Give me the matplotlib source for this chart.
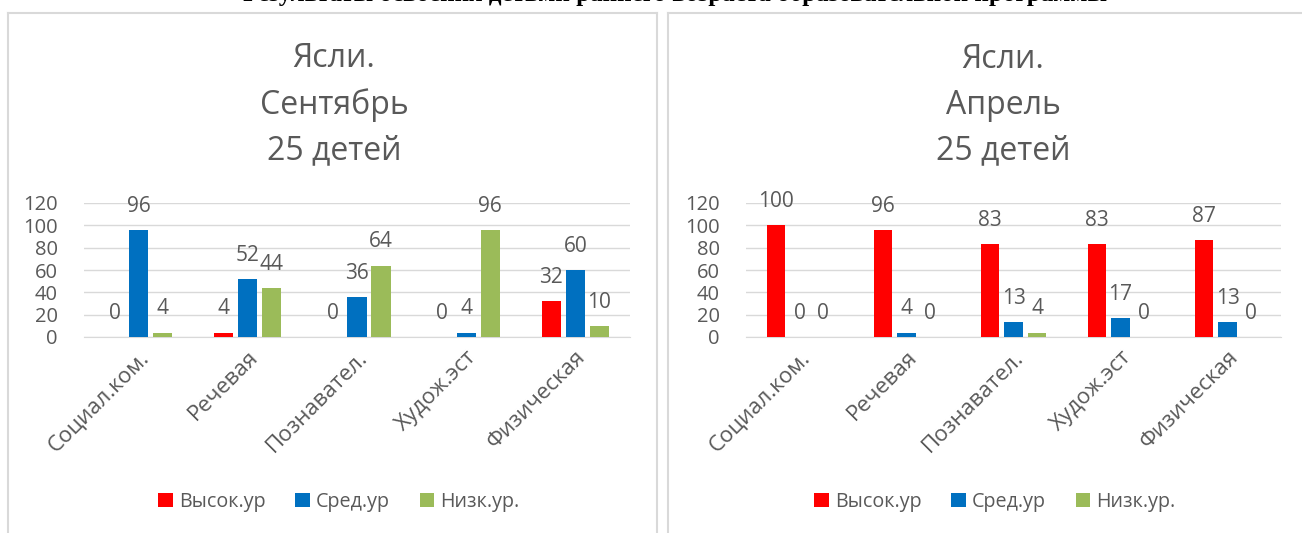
import numpy as np
import matplotlib.pyplot as plt
from matplotlib.lines import Line2D

plt.rcParams['font.family'] = ['Open Sans', 'DejaVu Sans']

# Data
categories = ["Социал.ком.", "Речевая", "Познавател.", "Худож.эст", "Физическая"]
series_names = ["Высок.ур", "Сред.ур", "Низк.ур."]
colors = ["#FF0000", "#0070C0", "#9BBB59"]

sept_high = [0, 4, 0, 0, 32]
sept_mid = [96, 52, 36, 4, 60]
sept_low = [4, 44, 64, 96, 10]

apr_high = [100, 96, 83, 83, 87]
apr_mid = [0, 4, 13, 17, 13]
apr_low = [0, 0, 4, 0, 0]

titles = ["Ясли.\nСентябрь\n25 детей", "Ясли.\nАпрель\n25 детей"]
banner = "Результаты освоения детьми раннего возраста образовательной программы"

W, H = 1302, 533
fig = plt.figure(figsize=(W / 100, H / 100), dpi=100)

text_col = "#595959"
grid_col = "#d9d9d9"

# Panel borders (in pixels, converted to figure fraction)
def fline(x0, y0, x1, y1):
    fig.add_artist(Line2D([x0 / W, x1 / W], [1 - y0 / H, 1 - y1 / H],
                          transform=fig.transFigure, color=grid_col, lw=1.5))

fline(8, 13, 8, H + 5)
fline(8, 13, 657, 13)
fline(657, 13, 657, H + 5)
fline(668, 13, 668, H + 5)
fline(668, 13, W + 5, 13)

# Banner text, cut off at the top edge as in the source page
fig.text(675 / W, 1 + 6 / H, banner, ha='center', va='center',
         family='Liberation Serif', fontweight='bold', fontsize=18, color='black')

panels = [
    (84, 630, 334, 339, [sept_high, sept_mid, sept_low], titles[0]),
    (746, 1281, 1003, 995, [apr_high, apr_mid, apr_low], titles[1]),
]

x = np.arange(len(categories))
step = 0.22
width = 0.175

for left, right, title_x, leg_x, data, title in panels:
    ax = fig.add_axes([left / W, 1 - 337 / H, (right - left) / W, (337 - 203) / H])
    for j, vals in enumerate(data):
        ax.bar(x + (j - 1) * step, vals, width, color=colors[j], label=series_names[j], zorder=3)
        for xi, v in zip(x + (j - 1) * step, vals):
            ax.annotate(str(v), (xi, v), xytext=(0, 17), textcoords='offset points',
                        ha='center', va='center', fontsize=15, color=text_col)
    ax.set_xlim(-0.5, len(categories) - 0.5)
    ax.set_ylim(0, 120)
    ax.set_yticks(range(0, 121, 20))
    ax.set_xticks(x)
    ax.set_xticklabels(categories, rotation=45, ha='right', rotation_mode='anchor')
    ax.tick_params(axis='y', length=0, labelsize=14.5, labelcolor=text_col, pad=19)
    ax.tick_params(axis='x', length=0, labelsize=16, labelcolor=text_col, pad=7)
    ax.grid(axis='y', color=grid_col, lw=1, zorder=0)
    for s in ['top', 'right', 'left']:
        ax.spines[s].set_visible(False)
    ax.spines['bottom'].set_color(grid_col)
    ax.set_facecolor('none')

    fig.text(title_x / W, 1 - 105 / H, title, ha='center', va='center',
             fontsize=23, color=text_col, linespacing=1.5)

    ax.legend(loc='center', bbox_to_anchor=(leg_x / W, 1 - 502 / H), bbox_transform=fig.transFigure,
              ncol=3, frameon=False, handlelength=0.75, handleheight=0.75, handletextpad=0.3,
              columnspacing=1.5, prop={'size': 14.2}, labelcolor=text_col)

fig.savefig("out.png", dpi=100)
